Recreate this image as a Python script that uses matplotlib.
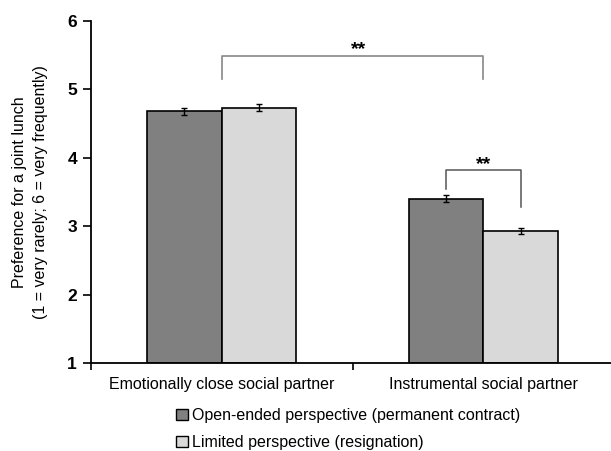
import matplotlib
matplotlib.use("Agg")
import matplotlib.pyplot as plt
from matplotlib.patches import Patch
import numpy as np

plt.rcParams['font.family'] = ['Liberation Sans', 'DejaVu Sans']

categories = ["Emotionally close social partner", "Instrumental social partner"]
series_names = ["Open-ended perspective (permanent contract)", "Limited perspective (resignation)"]
open_ended = [4.68, 3.40]
limited = [4.73, 2.93]
open_err = [0.05, 0.05]
limited_err = [0.05, 0.045]
yticks = [1, 2, 3, 4, 5, 6]

colors = ["#808080", "#d9d9d9"]

fig = plt.figure(figsize=(6.11, 4.51), dpi=100)
ax = fig.add_axes([91/611, 87.7/451, 523/611, 342.6/451])

x = np.arange(len(categories))
w = 0.285
ax.bar(x - w/2, np.array(open_ended) - 1, w, bottom=1, color=colors[0], edgecolor="black", linewidth=1.2, zorder=2)
ax.bar(x + w/2, np.array(limited) - 1, w, bottom=1, color=colors[1], edgecolor="black", linewidth=1.2, zorder=2)
ax.errorbar(x - w/2, open_ended, yerr=open_err, fmt="none", ecolor="black", elinewidth=1, capsize=2.5, capthick=1, zorder=3)
ax.errorbar(x + w/2, limited, yerr=limited_err, fmt="none", ecolor="black", elinewidth=1, capsize=2.5, capthick=1, zorder=3)

ax.set_ylim(1, 6)
ax.set_xlim(-0.5, 1.5)
ax.set_yticks(yticks)
ax.set_yticklabels([str(t) for t in yticks], fontsize=12.5, fontweight="bold")
ax.set_xticks([-0.5, 0.5, 1.5])
ax.set_xticklabels([])
ax.set_xticks(x, minor=True)
ax.set_xticklabels(categories, minor=True, fontsize=11.5)
ax.tick_params(axis="x", which="minor", length=0, pad=10)
ax.tick_params(axis="x", which="major", length=5, width=1.2, direction="out")
ax.tick_params(axis="y", length=6, width=1.2, direction="out", pad=4)
for s in ["top", "right"]:
    ax.spines[s].set_visible(False)
for s in ["left", "bottom"]:
    ax.spines[s].set_linewidth(1.3)

ax.set_ylabel("Preference for a joint lunch\n(1 = very rarely; 6 = very frequently)", fontsize=11.5,
              labelpad=14, linespacing=1.5)

# significance brackets
ax.plot([0, 0, 1, 1], [5.15, 5.49, 5.49, 5.15], color="#888888", lw=1.2, clip_on=False)
ax.text(0.525, 5.45, "**", ha="center", va="bottom", fontsize=14, fontweight="bold")
ax.plot([1 - w/2, 1 - w/2, 1 + w/2, 1 + w/2], [3.54, 3.82, 3.82, 3.28], color="#555555", lw=1.1, clip_on=False)
ax.text(1.0, 3.78, "**", ha="center", va="bottom", fontsize=14, fontweight="bold")

handles = [Patch(facecolor=colors[0], edgecolor="black", linewidth=1),
           Patch(facecolor=colors[1], edgecolor="black", linewidth=1)]
fig.legend(handles, series_names, loc="upper left", bbox_to_anchor=(176/611, 1 - 408/451),
           frameon=False, fontsize=11.5, handlelength=0.75, handleheight=0.75, handletextpad=0.25,
           labelspacing=0.75, borderaxespad=0, borderpad=0)

fig.savefig("out.png", dpi=100)
